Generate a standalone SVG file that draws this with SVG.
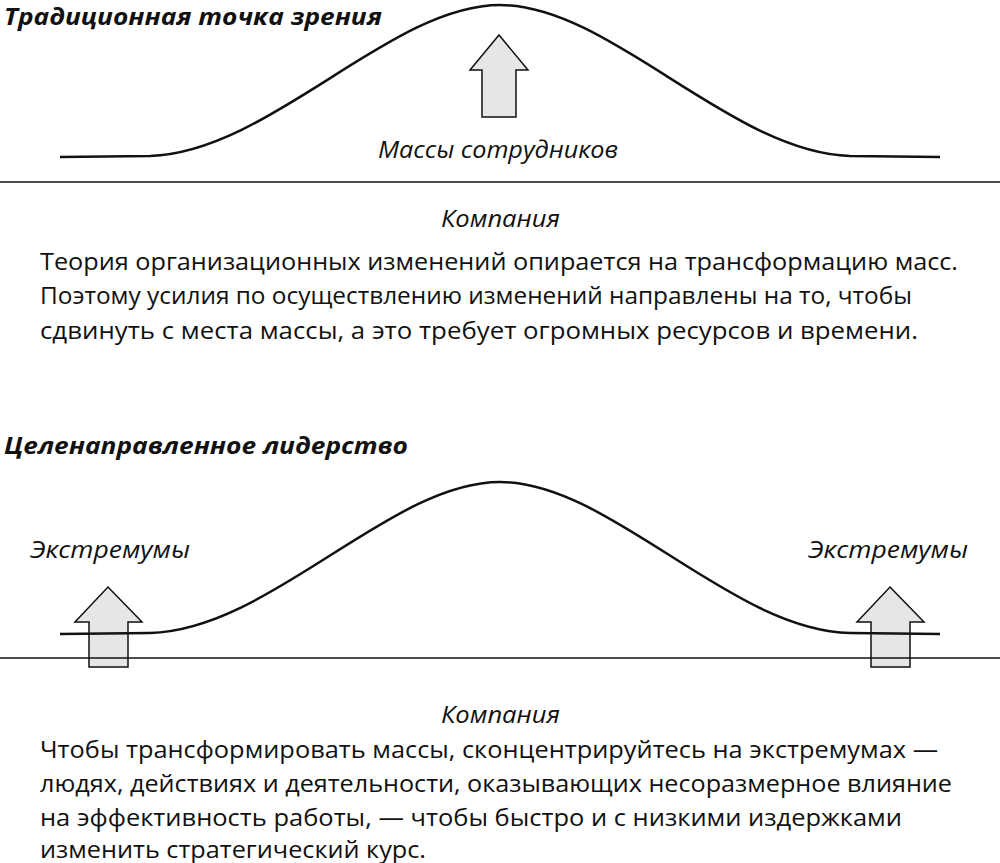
<svg xmlns="http://www.w3.org/2000/svg" width="1000" height="863" viewBox="0 0 1000 863">
<style>
.t{font-family:"Open Sans","Liberation Sans",sans-serif;font-weight:bold;font-style:italic;font-size:23px;fill:#111}
.l{font-family:"Open Sans","Liberation Sans",sans-serif;font-style:italic;font-size:24px;fill:#111}
.p{font-family:"Open Sans","Liberation Sans",sans-serif;font-size:23px;fill:#111}
.c{fill:none;stroke:#111;stroke-width:2.5}
.a{fill:#e6e6e6;stroke:#111;stroke-width:1.5}
</style>
<rect width="1000" height="863" fill="#fff"/>
<g id="top">
<text class="t" x="4" y="25" textLength="378" lengthAdjust="spacingAndGlyphs">Традиционная точка зрения</text>
<path class="a" d="M499,35 L528,70 L516,70 L516,117 L482,117 L482,70 L470,70 Z"/>
<path class="c" d="M60,157 L150,156 C270,152 390,5 500,5 C610,5 730,152 850,156 L940,157"/>
<text class="l" x="378" y="158" textLength="240" lengthAdjust="spacingAndGlyphs">Массы сотрудников</text>
<line x1="0" y1="182" x2="1000" y2="182" stroke="#111" stroke-width="1.5"/>
<text class="l" x="441" y="227" textLength="119" lengthAdjust="spacingAndGlyphs">Компания</text>
<text class="p" x="40" y="270" textLength="918" lengthAdjust="spacingAndGlyphs">Теория организационных изменений опирается на трансформацию масс.</text>
<text class="p" x="40" y="304" textLength="872" lengthAdjust="spacingAndGlyphs">Поэтому усилия по осуществлению изменений направлены на то, чтобы</text>
<text class="p" x="40" y="339" textLength="878" lengthAdjust="spacingAndGlyphs">сдвинуть с места массы, а это требует огромных ресурсов и времени.</text>
</g>
<g id="bottom">
<text class="t" x="4" y="454" textLength="404" lengthAdjust="spacingAndGlyphs">Целенаправленное лидерство</text>
<text class="l" x="30" y="558" textLength="160" lengthAdjust="spacingAndGlyphs">Экстремумы</text>
<text class="l" x="808" y="558" textLength="160" lengthAdjust="spacingAndGlyphs">Экстремумы</text>
<path class="a" d="M108,587 L142,622 L128,622 L128,667 L89,667 L89,622 L75,622 Z"/>
<path class="a" d="M890,587 L924,622 L910,622 L910,667 L871,667 L871,622 L857,622 Z"/>
<path class="c" d="M60,634 L150,633 C270,630 390,482 500,482 C610,482 730,630 850,633 L940,634"/>
<line x1="0" y1="658" x2="1000" y2="658" stroke="#111" stroke-width="1.5"/>
<text class="l" x="441" y="723" textLength="119" lengthAdjust="spacingAndGlyphs">Компания</text>
<text class="p" x="40" y="758" textLength="898" lengthAdjust="spacingAndGlyphs">Чтобы трансформировать массы, сконцентрируйтесь на экстремумах —</text>
<text class="p" x="40" y="792" textLength="912" lengthAdjust="spacingAndGlyphs">людях, действиях и деятельности, оказывающих несоразмерное влияние</text>
<text class="p" x="40" y="826" textLength="862" lengthAdjust="spacingAndGlyphs">на эффективность работы, — чтобы быстро и с низкими издержками</text>
<text class="p" x="40" y="858" textLength="386" lengthAdjust="spacingAndGlyphs">изменить стратегический курс.</text>
</g>
</svg>
